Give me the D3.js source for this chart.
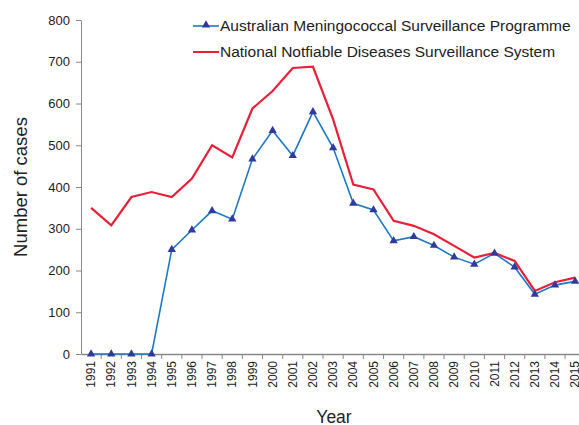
<!DOCTYPE html>
<html>
<head>
<meta charset="utf-8">
<script src="https://cdn.jsdelivr.net/npm/d3@7"></script>
<style>
  body { margin: 0; background: #fff; }
  svg text { font-family: "Liberation Sans", Arial, sans-serif; fill: #222; }
</style>
</head>
<body>
<div id="chart"></div>
<script>
var years = ['1991','1992','1993','1994','1995','1996','1997','1998','1999','2000','2001','2002','2003',
  '2004','2005','2006','2007','2008','2009','2010','2011','2012','2013','2014','2015'];
var amsp = [0, 0, 0, 0, 250, 297, 343, 323, 467, 535, 475, 580, 494, 361, 345, 271, 281, 260, 232, 215, 241, 208, 143, 165, 174];
var nndss = [350, 308, 376, 388, 376, 420, 500, 471, 588, 630, 685, 688, 562, 406, 394, 319, 307, 287, 259, 231, 242, 223, 151, 172, 183];
var yTicks = [0, 100, 200, 300, 400, 500, 600, 700, 800];
var seriesNames = ['Australian Meningococcal Surveillance Programme', 'National Notfiable Diseases Surveillance System'];

var width = 579;
var height = 425;
var plotLeft = 81, plotTop = 20, plotBottom = 354;
var bandW = 20.17;

var svg = d3.select('#chart').append('svg').attr('width', width).attr('height', height);

var x = d3.scaleBand().domain(years).range([plotLeft, plotLeft + bandW * years.length]);
var y = d3.scaleLinear().domain([0, 800]).range([plotBottom, plotTop]);

// y axis
var yAxis = svg.append('g').attr('transform', 'translate(' + plotLeft + ',0)')
  .call(d3.axisLeft(y).tickValues(yTicks).tickSize(5).tickSizeOuter(0).tickPadding(6));
yAxis.select('.domain').attr('stroke', '#888');
yAxis.selectAll('.tick line').attr('stroke', '#888');
yAxis.selectAll('.tick text').style('font-size', '13px');

// x axis with ticks between the years
var xAxis = svg.append('g').attr('transform', 'translate(0,' + plotBottom + ')')
  .call(d3.axisBottom(x).tickSize(0).tickSizeOuter(0));
xAxis.select('.domain').attr('stroke', '#888').attr('stroke-width', 1.5);
xAxis.selectAll('.tick text')
  .style('font-size', '12px')
  .attr('text-anchor', 'end')
  .attr('transform', 'rotate(-90)')
  .attr('x', -7).attr('y', 0).attr('dy', '0.35em');
years.forEach(function(yr){
  var bx = x(yr) + bandW;
  svg.append('line').attr('x1', bx).attr('x2', bx).attr('y1', plotBottom).attr('y2', plotBottom + 5)
    .attr('stroke', '#888');
});

var line = d3.line().x(function(d, i){ return x(years[i]) + bandW / 2; }).y(function(d){ return y(d); });

svg.append('path').datum(amsp).attr('d', line).attr('fill', 'none').attr('stroke', '#1f78c8').attr('stroke-width', 1.6);
svg.append('path').datum(nndss).attr('d', line).attr('fill', 'none').attr('stroke', '#e8203a').attr('stroke-width', 2.2);

var tri = d3.symbol().type(d3.symbolTriangle).size(30);
svg.selectAll('.marker').data(amsp).enter().append('path')
  .attr('class', 'marker')
  .attr('d', tri)
  .attr('transform', function(d, i){ return 'translate(' + (x(years[i]) + bandW / 2) + ',' + y(d) + ')'; })
  .attr('fill', '#2e3a9e');

// legend
var legend = svg.append('g');
legend.append('line').attr('x1', 193).attr('x2', 219).attr('y1', 26).attr('y2', 26).attr('stroke', '#1f78c8').attr('stroke-width', 1.6);
legend.append('path').attr('d', tri).attr('transform', 'translate(206,25)').attr('fill', '#2e3a9e');
legend.append('text').attr('x', 220).attr('y', 26).attr('dy', '0.35em').style('font-size', '15.5px').text(seriesNames[0]);
legend.append('line').attr('x1', 193).attr('x2', 219).attr('y1', 52).attr('y2', 52).attr('stroke', '#e8203a').attr('stroke-width', 2);
legend.append('text').attr('x', 220).attr('y', 52).attr('dy', '0.35em').style('font-size', '15.5px').text(seriesNames[1]);

// axis titles
svg.append('text').attr('transform', 'translate(27,187) rotate(-90)').attr('text-anchor', 'middle')
  .style('font-size', '18.5px').text('Number of cases');
svg.append('text').attr('x', 334).attr('y', 423).attr('text-anchor', 'middle')
  .style('font-size', '17.5px').text('Year');
</script>
</body>
</html>
